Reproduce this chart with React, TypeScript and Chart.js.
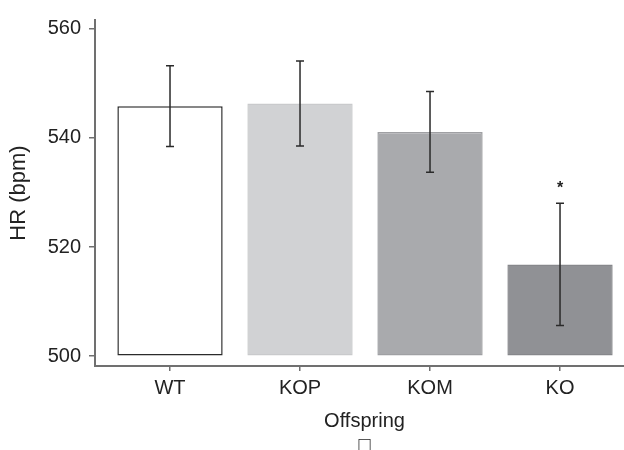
import React, { useEffect, useRef } from "react";
import { Chart, registerables } from "chart.js";

Chart.register(...registerables);

const categories = ["WT", "KOP", "KOM", "KO"];
const means = [545.8, 546.3, 541.1, 516.8];
const errors = [7.4, 7.8, 7.4, 11.2];
const marks = ["", "", "", "*"];
const yTicks = [500, 520, 540, 560];
const fills = ["#ffffff", "#d1d2d4", "#a9aaad", "#909195"];
const borders = ["#2b2b2b", "#c9cacc", "#9fa0a3", "#86878b"];

const FONT = "'Liberation Sans', Arial, Helvetica, sans-serif";
const AXIS = "#707070";

const errorBarPlugin = {
  id: "errorBars",
  afterDatasetsDraw(chart: any) {
    const { ctx } = chart;
    const xs = chart.scales.x;
    const ys = chart.scales.y;
    ctx.save();
    ctx.strokeStyle = "#2a2a2a";
    ctx.lineWidth = 1.5;
    means.forEach((m, i) => {
      const x = xs.getPixelForValue(i);
      const yt = ys.getPixelForValue(m + errors[i]);
      const yb = ys.getPixelForValue(m - errors[i]);
      ctx.beginPath();
      ctx.moveTo(x, yt);
      ctx.lineTo(x, yb);
      ctx.moveTo(x - 4, yt);
      ctx.lineTo(x + 4, yt);
      ctx.moveTo(x - 4, yb);
      ctx.lineTo(x + 4, yb);
      ctx.stroke();
      if (marks[i]) {
        ctx.fillStyle = "#222";
        ctx.font = `bold 16px ${FONT}`;
        ctx.textAlign = "center";
        ctx.textBaseline = "alphabetic";
        ctx.fillText(marks[i], x, yt - 10);
      }
    });
    ctx.restore();
  },
};

export default function App() {
  const ref = useRef<HTMLCanvasElement | null>(null);
  useEffect(() => {
    if (!ref.current) return;
    const chart = new Chart(ref.current, {
      type: "bar",
      data: {
        datasets: [
          {
            data: means.map((m, i) => ({ x: i, y: m })),
            base: 500,
            backgroundColor: fills,
            borderColor: borders,
            borderWidth: 1.5,
            borderSkipped: false,
            barPercentage: 0.81,
            categoryPercentage: 1,
          } as any,
        ],
      },
      options: {
        animation: false,
        responsive: false,
        devicePixelRatio: 1,
        layout: { padding: { top: 14, left: 0, right: 0, bottom: 0 } },
        plugins: { legend: { display: false }, tooltip: { enabled: false } },
        scales: {
          x: {
            type: "linear",
            offset: false,
            min: -0.577,
            max: 3.569,
            afterBuildTicks: (s: any) => {
              s.ticks = categories.map((_, i) => ({ value: i }));
            },
            afterFit: (s: any) => {
              s.height = 84;
            },
            ticks: {
              callback: (v: any) => categories[v] ?? "",
              font: { family: FONT, size: 20 },
              color: "#222",
              padding: 5,
              maxRotation: 0,
              autoSkip: false,
            },
            grid: {
              offset: false,
              drawOnChartArea: false,
              drawTicks: true,
              tickLength: 5,
              color: AXIS,
              lineWidth: 1.5,
            },
            border: { display: true, color: AXIS, width: 2 },
            title: {
              display: true,
              text: ["Offspring", "\u25a1"],
              font: { family: FONT, size: 20 },
              color: "#222",
              padding: { top: 0, bottom: -7 },
            },
          },
          y: {
            type: "linear",
            min: 498.2,
            max: 561.6,
            afterBuildTicks: (s: any) => {
              s.ticks = yTicks.map((v) => ({ value: v }));
            },
            afterFit: (s: any) => {
              s.width = 95;
            },
            ticks: {
              font: { family: FONT, size: 20 },
              color: "#222",
              padding: 8,
            },
            grid: {
              drawOnChartArea: false,
              drawTicks: true,
              tickLength: 6,
              color: AXIS,
              lineWidth: 1.5,
            },
            border: { display: true, color: AXIS, width: 2 },
            title: {
              display: true,
              text: "HR (bpm)",
              font: { family: FONT, size: 22 },
              color: "#222",
              padding: { top: 6, bottom: 0 },
            },
          },
        },
      },
      plugins: [errorBarPlugin],
    });
    return () => chart.destroy();
  }, []);
  return (
    <div
      style={{
        position: "absolute",
        left: 0,
        top: 0,
        width: 624,
        height: 450,
        overflow: "hidden",
        background: "#fff",
      }}
    >
      <canvas ref={ref} width={634} height={450} style={{ display: "block" }} />
    </div>
  );
}
